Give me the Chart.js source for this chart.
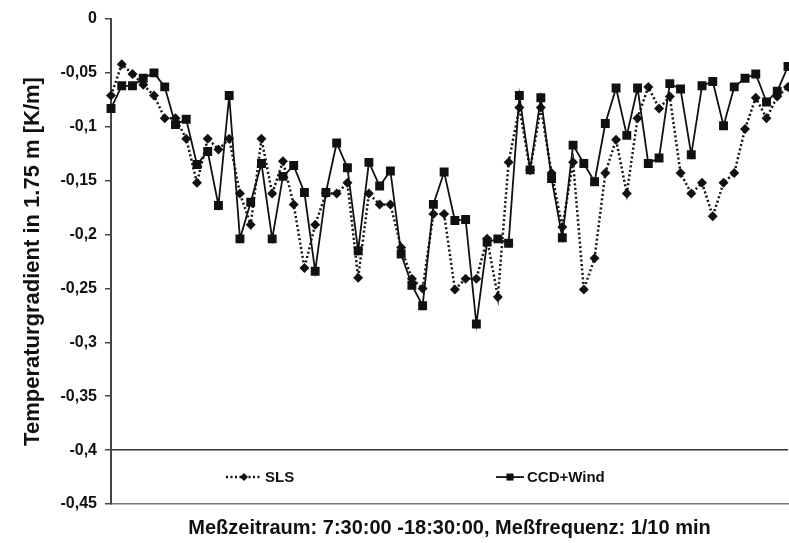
<!DOCTYPE html>
<html>
<head>
<meta charset="utf-8">
<script src="https://cdn.jsdelivr.net/npm/chart.js@4/dist/chart.umd.min.js"></script>
<style>
  html, body { margin: 0; padding: 0; background: #fff; }
  #wrap { width: 789px; height: 543px; }
</style>
</head>
<body>
<div id="wrap"><canvas id="gradient"></canvas></div>
<script>
// Messzeitpunkte (10-min-Takt)
const times = ['7:30', '7:40', '7:50', '8:00', '8:10', '8:20', '8:30', '8:40', '8:50', '9:00',
    '9:10', '9:20', '9:30', '9:40', '9:50', '10:00', '10:10', '10:20', '10:30', '10:40',
    '10:50', '11:00', '11:10', '11:20', '11:30', '11:40', '11:50', '12:00', '12:10', '12:20',
    '12:30', '12:40', '12:50', '13:00', '13:10', '13:20', '13:30', '13:40', '13:50', '14:00',
    '14:10', '14:20', '14:30', '14:40', '14:50', '15:00', '15:10', '15:20', '15:30', '15:40',
    '15:50', '16:00', '16:10', '16:20', '16:30', '16:40', '16:50', '17:00', '17:10', '17:20',
    '17:30', '17:40', '17:50', '18:00'];

const sls = [-0.071, -0.042, -0.051, -0.061, -0.071, -0.092, -0.092, -0.111, -0.152, -0.111,
    -0.121, -0.111, -0.162, -0.191, -0.111, -0.162, -0.132, -0.172, -0.231, -0.191,
    -0.162, -0.162, -0.152, -0.240, -0.162, -0.172, -0.172, -0.212, -0.241, -0.250,
    -0.181, -0.181, -0.251, -0.241, -0.241, -0.204, -0.258, -0.133, -0.082, -0.140,
    -0.082, -0.143, -0.193, -0.133, -0.251, -0.222, -0.143, -0.112, -0.162, -0.092,
    -0.063, -0.083, -0.072, -0.143, -0.162, -0.152, -0.183, -0.152, -0.143, -0.102,
    -0.073, -0.092, -0.072, -0.063];

const ccdWind = [-0.083, -0.062, -0.062, -0.055, -0.050, -0.063, -0.098, -0.093, -0.135, -0.123,
    -0.173, -0.071, -0.204, -0.170, -0.134, -0.204, -0.146, -0.136, -0.161, -0.234,
    -0.161, -0.115, -0.138, -0.215, -0.133, -0.155, -0.141, -0.218, -0.247, -0.266,
    -0.172, -0.142, -0.187, -0.186, -0.283, -0.207, -0.204, -0.208, -0.071, -0.140,
    -0.073, -0.148, -0.203, -0.117, -0.134, -0.151, -0.097, -0.064, -0.108, -0.064,
    -0.134, -0.129, -0.060, -0.065, -0.126, -0.062, -0.058, -0.099, -0.063, -0.055,
    -0.051, -0.077, -0.067, -0.044];

const yTicks = [0, -0.05, -0.1, -0.15, -0.2, -0.25, -0.3, -0.35, -0.4, -0.45];

const FONT = 'Arial, "Liberation Sans", sans-serif';

// Legende liegt im Diagramm unten, zwischen -0,4 und -0,45
const inlineLegend = {
    id: 'inlineLegend',
    afterDraw(chart) {
        const ctx = chart.ctx;
        const y = chart.scales.y.getPixelForValue(-0.425);
        const items = [
            { ds: chart.data.datasets[0], x: 226, len: 36 },
            { ds: chart.data.datasets[1], x: 496, len: 28 }
        ];
        ctx.save();
        items.forEach(function(it) {
            const ds = it.ds;
            ctx.strokeStyle = ds.borderColor;
            ctx.lineWidth = ds.borderWidth;
            ctx.setLineDash(ds.borderDash || []);
            ctx.beginPath();
            ctx.moveTo(it.x, y);
            ctx.lineTo(it.x + it.len, y);
            ctx.stroke();
            ctx.setLineDash([]);
            ctx.fillStyle = ds.pointBackgroundColor;
            Chart.helpers.drawPoint(ctx, {
                pointStyle: ds.pointStyle,
                radius: ds.legendRadius,
                rotation: 0,
                borderWidth: 0
            }, it.x + it.len / 2, y);
            ctx.fillStyle = '#111';
            ctx.font = 'bold 15px ' + FONT;
            ctx.textBaseline = 'middle';
            ctx.fillText(ds.label, it.x + it.len + 3, y + 1);
        });
        ctx.restore();
    }
};

const chart = new Chart(document.getElementById('gradient').getContext('2d'), {
    type: 'line',
    data: {
        labels: times,
        datasets: [
            {
                label: 'SLS',
                data: sls,
                borderColor: '#111',
                borderWidth: 2.5,
                borderDash: [2, 2.5],
                pointStyle: 'rectRot',
                pointRadius: 5,
                legendRadius: 4,
                pointBackgroundColor: '#111',
                pointBorderWidth: 0,
                tension: 0
            },
            {
                label: 'CCD+Wind',
                data: ccdWind,
                borderColor: '#111',
                borderWidth: 1.8,
                pointStyle: 'rect',
                pointRadius: 6.3,
                legendRadius: 5,
                pointBackgroundColor: '#111',
                pointBorderWidth: 0,
                tension: 0
            }
        ]
    },
    options: {
        responsive: true,
        maintainAspectRatio: false,
        animation: false,
        layout: { autoPadding: false, padding: { top: 19, right: 1, left: 0, bottom: 0 } },
        plugins: {
            legend: { display: false },
            tooltip: { enabled: false }
        },
        scales: {
            x: {
                offset: false,
                ticks: { display: false },
                grid: { display: false },
                border: { display: true, color: '#777', width: 1.5, dash: [1, 2] },
                title: {
                    display: true,
                    text: 'Meßzeitraum: 7:30:00 -18:30:00, Meßfrequenz: 1/10 min',
                    color: '#111',
                    font: { family: FONT, size: 20, weight: 'bold' },
                    padding: { top: 12, bottom: 3 }
                },
                afterFit: function(scale) { scale.height = 39; }
            },
            y: {
                min: -0.45,
                max: 0,
                afterBuildTicks: function(scale) {
                    scale.ticks = yTicks.map(function(v) { return { value: v }; });
                },
                ticks: {
                    color: '#111',
                    padding: 8,
                    font: { family: FONT, size: 16, weight: 'bold' },
                    callback: function(v) {
                        return String(Math.round(v * 100) / 100).replace('.', ',');
                    }
                },
                grid: {
                    drawOnChartArea: true,
                    tickLength: 6,
                    tickColor: '#444',
                    lineWidth: 1.5,
                    color: function(c) {
                        return c.tick && Math.abs(c.tick.value + 0.4) < 1e-6 ? '#333' : 'rgba(0,0,0,0)';
                    }
                },
                border: { display: true, color: '#444', width: 2 },
                title: {
                    display: true,
                    text: 'Temperaturgradient in 1.75 m [K/m]',
                    color: '#111',
                    font: { family: FONT, size: 22, weight: 'bold' },
                    padding: { top: 20, bottom: 0 }
                },
                afterFit: function(scale) { scale.width = 111; }
            }
        }
    },
    plugins: [inlineLegend]
});
</script>
</body>
</html>
